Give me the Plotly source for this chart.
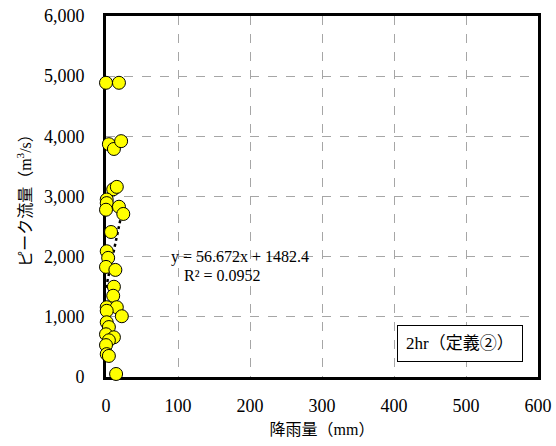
import plotly.graph_objects as go

rain_mm = [0, 18, 4, 11, 21, 10, 15, 1, 1, 0, 18, 24, 7, 1, 3, 0, 13, 11, 10, 1, 15, 1, 22, 1, 4, 0, 11, 4, 0, 1, 4, 14]
peak_q = [4890, 4890, 3870, 3790, 3920, 3120, 3160, 2950, 2890, 2780, 2830, 2710, 2410, 2090, 1980, 1830, 1780, 1500, 1350, 1160, 1160, 1100, 1010, 910, 830, 710, 660, 610, 530, 380, 350, 50]

slope = 56.672
intercept = 1482.4
r2 = 0.0952

x_ticks = [0, 100, 200, 300, 400, 500, 600]
y_ticks = [0, 1000, 2000, 3000, 4000, 5000, 6000]

FONT = "Liberation Serif, 'Noto Sans CJK JP', serif"

fig = go.Figure()

xmin, xmax = min(rain_mm), max(rain_mm)
fig.add_trace(go.Scatter(
    x=[xmin, xmax], y=[slope * xmin + intercept, slope * xmax + intercept],
    mode="lines", line=dict(color="black", width=2.5, dash="dot"),
    showlegend=False, hoverinfo="skip"))

fig.add_trace(go.Scatter(
    x=rain_mm, y=peak_q, mode="markers",
    marker=dict(size=13, color="#FFFF00", line=dict(color="black", width=1)),
    cliponaxis=False, showlegend=False))

axis_common = dict(
    showline=True, linecolor="black", linewidth=3, mirror=True,
    showgrid=True, gridcolor="#A6A6A6", griddash="dash", gridwidth=1,
    zeroline=False, ticks="", layer="below traces", automargin=False,
    ticklabeloverflow="allow",
    tickfont=dict(family=FONT, size=18, color="black"),
)

fig.update_xaxes(range=[0, 600], tickvals=x_ticks, ticktext=[str(v) for v in x_ticks],
                 ticklabelstandoff=10,
                 title=dict(text="降雨量（mm）", font=dict(family=FONT, size=16, color="black"), standoff=10),
                 **axis_common)
fig.update_yaxes(range=[0, 6000], tickvals=y_ticks, ticktext=[f"{v:,}" for v in y_ticks],
                 ticklabelstandoff=15,
                 title=dict(text="ピーク流量（m<sup>3</sup>/s）", font=dict(family=FONT, size=16, color="black"), standoff=9),
                 **axis_common)

fig.add_annotation(x=186, y=1994, xref="x", yref="y", text=f"y = {slope}x + {intercept}",
                   showarrow=False, font=dict(family=FONT, size=16, color="black"))
fig.add_annotation(x=162, y=1679, xref="x", yref="y", text=f"R² = {r2}",
                   showarrow=False, font=dict(family=FONT, size=16, color="black"))

fig.add_annotation(x=0.965, y=0.093, xref="paper", yref="paper", xanchor="right", yanchor="middle",
                   text="2hr（定義②）", showarrow=False,
                   font=dict(family=FONT, size=17, color="black"),
                   bordercolor="black", borderwidth=1, borderpad=8, bgcolor="white")

fig.update_layout(
    width=556, height=446,
    margin=dict(l=106, r=18, t=16, b=69),
    paper_bgcolor="white", plot_bgcolor="white",
    font=dict(family=FONT, color="black"),
)

# remove the page's default 8px body margin so the figure fills the window exactly
fig.write_html("out.html", config={"displayModeBar": False},
               post_script="document.body.style.margin='0';document.body.style.overflow='hidden';")
